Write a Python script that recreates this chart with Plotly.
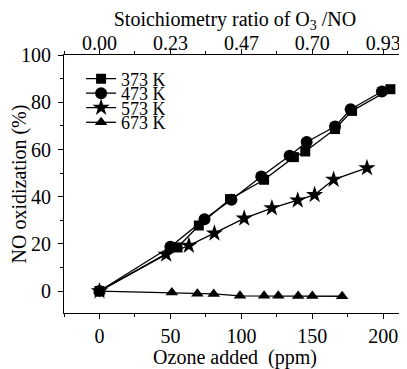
import plotly.graph_objects as go

# Data
x373 = [0, 55, 70, 92, 116, 137, 145, 166, 178, 205]
y373 = [0, 18.5, 27.8, 39, 47.2, 56.8, 59.2, 68.7, 76.4, 85.6]
x473 = [0, 50, 74, 93, 114, 134, 146, 166, 177, 199]
y473 = [0, 18.8, 30.5, 38.7, 48.6, 57.4, 63.2, 69.8, 77.1, 84.6]
x573 = [0, 47, 63, 81, 102, 121.5, 139.7, 151.6, 165, 188.5]
y573 = [0, 15.5, 19.3, 24.5, 30.8, 35.2, 38.5, 40.8, 47.3, 52.2]
x673 = [0, 51, 69, 80.5, 99, 116, 126, 140, 150, 171]
y673 = [0, -0.6, -1.1, -1.2, -2.0, -2.0, -2.0, -2.1, -2.1, -2.2]

series_names = ["373 K", "473 K", "573 K", "673 K"]
bottom_ticks = [0, 50, 100, 150, 200]
top_ticks = [0, 50, 100, 150, 200]
top_labels = ["0.00", "0.23", "0.47", "0.70", "0.93"]
y_ticks = [0, 20, 40, 60, 80, 100]

FONT = "Liberation Serif"
fig = go.Figure()
styles = [("square", 10), ("circle", 12), ("star", 13), ("triangle-up", 11)]
legend_ids = ["legend", "legend2", "legend3", "legend4"]
legend_y = [0.907, 0.851, 0.795, 0.738]
for (xs, ys), name, (sym, sz), lid in zip(
    [(x373, y373), (x473, y473), (x573, y573), (x673, y673)], series_names, styles, legend_ids
):
    fig.add_trace(go.Scatter(
        x=xs, y=ys, name=name, mode="lines+markers", legend=lid,
        line=dict(color="black", width=1.3),
        marker=dict(symbol=sym, size=sz, color="black"),
    ))
# invisible helper trace so that the top (stoichiometry) axis is drawn
fig.add_trace(go.Scatter(x=x373, y=y373, xaxis="x2", yaxis="y", mode="markers",
                         marker=dict(opacity=0), showlegend=False, hoverinfo="skip"))

axis_common = dict(
    showline=True, linecolor="black", linewidth=1.2, showgrid=False, zeroline=False,
    ticks="outside", ticklen=5, tickwidth=1, tickcolor="black", automargin=False,
    tickfont=dict(family=FONT, size=20, color="black"),
)
legend_style = dict(x=0.05, xanchor="left", yanchor="middle", bgcolor="rgba(0,0,0,0)",
                    font=dict(family=FONT, size=18), itemwidth=30)
layout_legends = {lid: dict(y=ly, **legend_style) for lid, ly in zip(legend_ids, legend_y)}

fig.update_layout(
    width=399, height=361,
    margin=dict(l=56, r=1, t=47, b=56),
    paper_bgcolor="white", plot_bgcolor="white",
    font=dict(family=FONT, color="black"),
    showlegend=True,
    xaxis=dict(range=[-25, 216], tickvals=bottom_ticks,
               minor=dict(ticks="outside", dtick=25, tick0=0, ticklen=3, tickcolor="black"),
               title=dict(text="Ozone added  (ppm)", font=dict(family=FONT, size=20), standoff=0),
               **axis_common),
    xaxis2=dict(range=[-25, 216], overlaying="x", side="top", anchor="y",
                tickvals=top_ticks, ticktext=top_labels, ticklabelstandoff=-9,
                minor=dict(ticks="outside", dtick=25, tick0=0, ticklen=3, tickcolor="black"),
                title=dict(text="Stoichiometry ratio of O<sub>3</sub> /NO",
                           font=dict(family=FONT, size=20), standoff=14),
                **axis_common),
    yaxis=dict(range=[-9.3, 100.1], tickvals=y_ticks, ticklabelstandoff=3,
               minor=dict(ticks="outside", dtick=10, tick0=0, ticklen=3, tickcolor="black"),
               title=dict(text="NO oxidization (%)", font=dict(family=FONT, size=20), standoff=0),
               **axis_common),
    **layout_legends,
)
fig.write_html("out.html")
